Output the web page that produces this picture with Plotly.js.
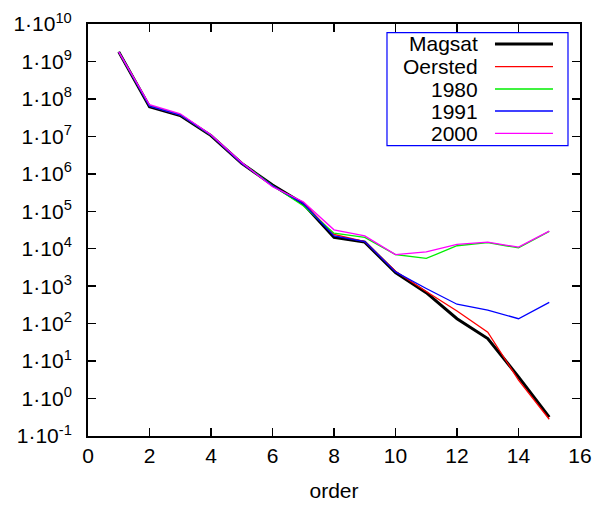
<!DOCTYPE html>
<html>
<head>
<meta charset="utf-8">
<script src="https://cdn.plot.ly/plotly-3.0.1.min.js"></script>
<style>html,body{margin:0;padding:0;background:#fff;}</style>
</head>
<body>
<div id="chart" style="width:597px;height:506px;"></div>
<script>
const order = [1,2,3,4,5,6,7,8,9,10,11,12,13,14,15];
const seriesNames = ["Magsat","Oersted","1980","1991","2000"];
const magsat  = [1.8e9, 6.2e7, 3.6e7, 1.05e7, 1.9e6, 5.0e5, 1.6e5, 2.0e4, 1.5e4, 2.3e3, 670, 135, 40, 3.8, 0.32];
const oersted = [1.8e9, 6.5e7, 3.7e7, 1.07e7, 1.9e6, 4.8e5, 1.65e5, 2.4e4, 1.55e4, 2.5e3, 720, 218, 59, 3.1, 0.28];
const y1980   = [1.8e9, 6.6e7, 3.8e7, 1.08e7, 1.95e6, 4.9e5, 1.4e5, 2.6e4, 2.0e4, 7.0e3, 5.5e3, 1.2e4, 1.45e4, 1.05e4, 2.9e4];
const y1991   = [1.8e9, 6.4e7, 3.7e7, 1.07e7, 1.9e6, 4.8e5, 1.6e5, 2.2e4, 1.55e4, 2.4e3, 870, 330, 230, 135, 370];
const y2000   = [1.8e9, 7.0e7, 4.0e7, 1.1e7, 2.0e6, 4.5e5, 1.8e5, 3.2e4, 2.2e4, 7.0e3, 8.2e3, 1.3e4, 1.5e4, 1.1e4, 2.95e4];
const yTickVals = [1e-1,1e0,1e1,1e2,1e3,1e4,1e5,1e6,1e7,1e8,1e9,1e10];
const yTickText = ["1·10<sup>-1</sup>","1·10<sup>0</sup>","1·10<sup>1</sup>","1·10<sup>2</sup>","1·10<sup>3</sup>","1·10<sup>4</sup>","1·10<sup>5</sup>","1·10<sup>6</sup>","1·10<sup>7</sup>","1·10<sup>8</sup>","1·10<sup>9</sup>","1·10<sup>10</sup>"];
const xTickVals = [0,2,4,6,8,10,12,14,16];

const allY = [magsat, oersted, y1980, y1991, y2000];
const colors = ["#000000","#ff0000","#00ee00","#0000ff","#ff00ff"];
const widths = [3, 1.3, 1.3, 1.3, 1.3];

const traces = allY.map((ys, i) => ({
  x: order, y: ys, type: "scatter", mode: "lines", name: seriesNames[i],
  line: {color: colors[i], width: widths[i]}, showlegend: false
}));

// manual legend (text right-aligned, sample line on the right)
const rowY = [0.9515, 0.8964, 0.8422, 0.7888, 0.7347];
const annotations = seriesNames.map((n, i) => ({
  xref: "paper", yref: "paper", x: 0.7967, y: rowY[i], xanchor: "right", yanchor: "middle",
  text: n, showarrow: false, font: {family: "Liberation Sans, Arial, sans-serif", size: 21, color: "#000"}
}));
const shapes = [{type: "rect", xref: "paper", yref: "paper", x0: 0.6077, x1: 0.9756, y0: 0.7046, y1: 0.9789,
  line: {color: "#0000ff", width: 1.2}, fillcolor: "#ffffff", layer: "above"}];
seriesNames.forEach((n, i) => shapes.push({type: "line", xref: "paper", yref: "paper",
  x0: 0.8272, x1: 0.9451, y0: rowY[i], y1: rowY[i], line: {color: colors[i], width: widths[i]}, layer: "above"}));

const layout = {
  width: 597, height: 506,
  margin: {l: 88, r: 17, t: 24, b: 70},
  paper_bgcolor: "#fff", plot_bgcolor: "#fff",
  font: {family: "Liberation Sans, Arial, sans-serif", size: 21, color: "#000"},
  xaxis: {range: [0, 16], tickvals: xTickVals, ticks: "inside", ticklen: 8, tickwidth: 1.5, tickcolor: "#000",
    showline: true, linewidth: 2, linecolor: "#000", mirror: "ticks", showgrid: false, zeroline: false,
    title: {text: "order", standoff: 17, font: {size: 21}}, tickfont: {size: 21}},
  yaxis: {type: "log", range: [-1, 10], tickvals: yTickVals, ticktext: yTickText, ticks: "inside", ticklen: 8,
    tickwidth: 1.5, tickcolor: "#000", showline: true, linewidth: 2, linecolor: "#000", mirror: "ticks",
    showgrid: false, zeroline: false, tickfont: {size: 21}, ticklabelstandoff: 10},
  annotations: annotations, shapes: shapes
};
Plotly.newPlot("chart", traces, layout, {displayModeBar: false, staticPlot: true});
</script>
</body>
</html>
